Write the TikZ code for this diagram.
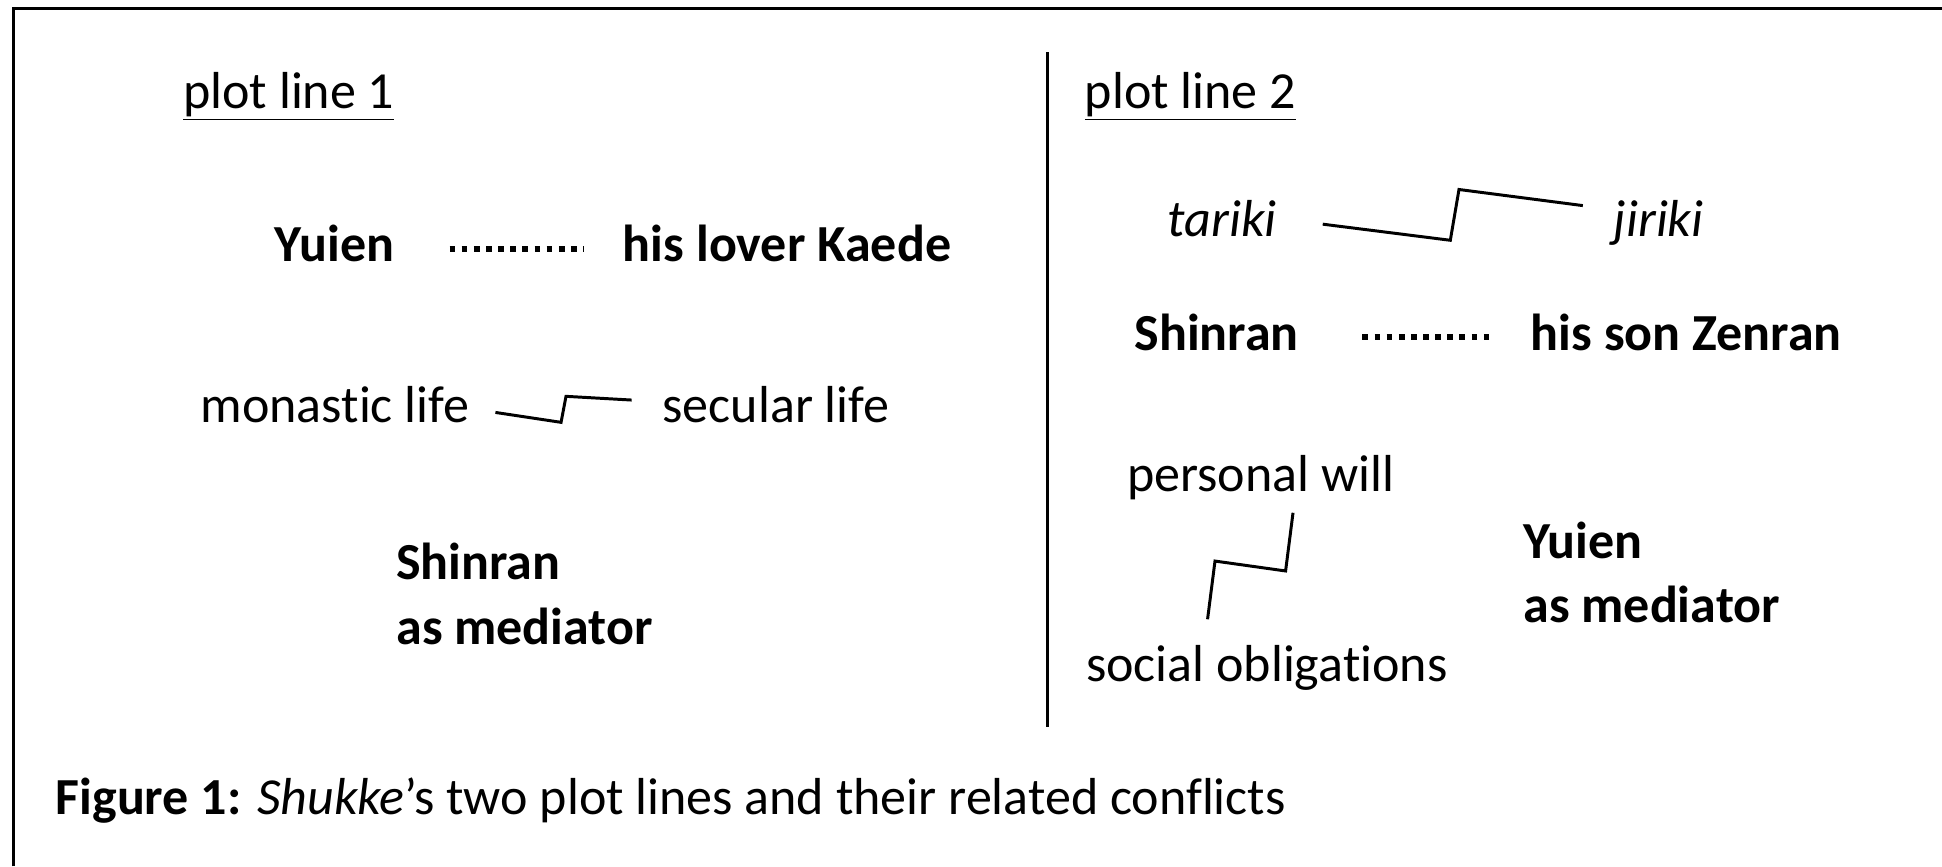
\documentclass[tikz,border=0pt]{standalone}
\usepackage{fontspec}
\setmainfont{Carlito}[Ligatures=NoCommon]
\begin{document}
\begin{tikzpicture}[x=1pt,y=-1pt,
  lbl/.style={inner sep=0pt,outer sep=0pt,anchor=base west,font=\fontsize{42}{52}\selectfont},
  blbl/.style={lbl,font=\fontsize{42}{52}\selectfont\bfseries},
  ilbl/.style={lbl,font=\fontsize{42}{52}\selectfont\itshape},
  twol/.style={blbl,align=left},
  zig/.style={line width=2.4pt,line join=miter},
  dots/.style={line width=4.6pt,dash pattern=on 4.6pt off 5.2pt},
  frame/.style={line width=2.6pt}]
\useasboundingbox (0,0) rectangle (1568,699.5);
\fill[white] (0,0) rectangle (1568,699.5);
% frame (top and left edges visible)
\coordinate (fbl) at (11,699.5);
\coordinate (ftl) at (11,7);
\coordinate (ftr) at (1568,7);
\draw[frame] (fbl) -- (ftl) -- (ftr);
% divider
\coordinate (dtop) at (846,42);
\coordinate (dbot) at (846,587);
\draw[line width=2.2pt] (dtop) -- (dbot);
% headings
\node[lbl] (pl1) at (148,88) {\underline{plot line 1}};
\node[lbl] (pl2) at (876,88) {\underline{plot line 2}};
% plot line 1
\node[blbl] (yuien1) at (222,211) {Yuien};
\node[blbl] (kaede) at (503,211) {his lover Kaede};
\coordinate (d1a) at (363,201);
\coordinate (d1b) at (471,201);
\draw[dots] (d1a) -- (d1b);
\node[lbl] (monastic) at (162,341) {monastic life};
\node[lbl] (secular) at (535,341) {secular life};
\coordinate (z1a) at (400,333);
\coordinate (z1b) at (453,341);
\coordinate (z1c) at (457,320);
\coordinate (z1d) at (510,323);
\draw[zig] (z1a) -- (z1b) -- (z1c) -- (z1d);
\node[twol] (shinran1) at (320,520) {Shinran\\as mediator};
% plot line 2
\node[ilbl] (tariki) at (943,191) {tariki};
\node[ilbl] (jiriki) at (1303,191) {jiriki};
\coordinate (z2a) at (1068,181);
\coordinate (z2b) at (1171,194);
\coordinate (z2c) at (1178,153);
\coordinate (z2d) at (1278,166);
\draw[zig] (z2a) -- (z2b) -- (z2c) -- (z2d);
\node[blbl] (shinran2) at (916,283) {Shinran};
\node[blbl] (zenran) at (1236,283) {his son Zenran};
\coordinate (d2a) at (1100,272);
\coordinate (d2b) at (1206,272);
\draw[dots] (d2a) -- (d2b);
\node[lbl] (personal) at (910,397) {personal will};
\node[lbl] (social) at (877,550) {social obligations};
\coordinate (z3a) at (1044,414);
\coordinate (z3b) at (1038,461);
\coordinate (z3c) at (981,453);
\coordinate (z3d) at (975,500);
\draw[zig] (z3a) -- (z3b) -- (z3c) -- (z3d);
\node[twol] (yuien2) at (1230,503) {Yuien\\as mediator};
% caption
\node[lbl] (caption) at (45,658) {\textbf{Figure 1:} \textit{Shukke}’s two plot lines and their related conflicts};
\end{tikzpicture}
\end{document}
